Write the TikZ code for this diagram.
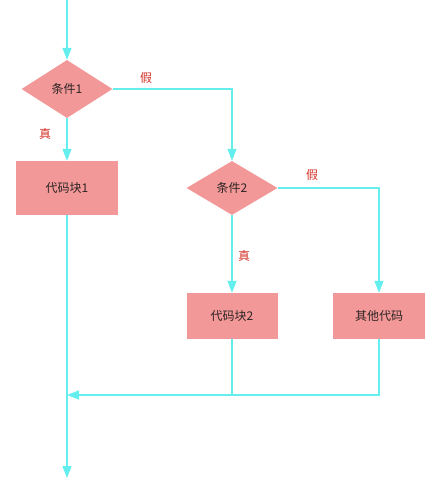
\documentclass[tikz,border=0pt]{standalone}
\usepackage{fontspec}
\setmainfont{Noto Sans CJK SC}
\usetikzlibrary{shapes.geometric,arrows.meta}
\definecolor{lnc}{RGB}{100,238,238}
\definecolor{boxc}{RGB}{242,152,152}
\definecolor{lblc}{RGB}{210,50,40}
\definecolor{txtc}{RGB}{45,35,35}
\begin{document}
\begin{tikzpicture}[x=1pt,y=-1pt,
  flow/.style={draw=lnc,line width=1.5pt},
  arr/.style={flow,-{Triangle[width=9pt,length=12pt]}},
  decide/.style={diamond,fill=boxc,minimum width=91pt,minimum height=58pt,inner sep=0pt,aspect=1.6,font=\fontsize{12pt}{14pt}\selectfont,text=txtc},
  proc/.style={rectangle,fill=boxc,inner sep=0pt,font=\fontsize{12pt}{14pt}\selectfont,text=txtc},
  lbl/.style={font=\fontsize{12pt}{14pt}\selectfont,text=lblc}]
\useasboundingbox (0,0) rectangle (431,491);
\coordinate (start) at (67,0);
\node[decide] (c1) at (67,89) {条件1};
\node[proc,minimum width=102pt,minimum height=54pt] (b1) at (67,188) {代码块1};
\node[decide,minimum width=91pt,minimum height=54pt] (c2) at (232,188) {条件2};
\node[proc,minimum width=91pt,minimum height=46pt] (b2) at (232,316) {代码块2};
\node[proc,minimum width=92pt,minimum height=46pt] (b3) at (379,316) {其他代码};
\coordinate (k1) at (232,89);
\coordinate (k2) at (379,188);
\coordinate (m2) at (232,395);
\coordinate (m3) at (379,395);
\coordinate (merge) at (67,395);
\coordinate (stop) at (67,478);
\draw[arr] (start) -- (c1.north);
\draw[arr] (c1.south) -- (b1.north);
\draw[arr] (c1.east) -- (k1) -- (c2.north);
\draw[arr] (c2.south) -- (b2.north);
\draw[arr] (c2.east) -- (k2) -- (b3.north);
\draw[flow] (b2.south) -- (m2);
\draw[arr] (b3.south) -- (m3) -- (merge);
\draw[arr] (b1.south) -- (stop);
\node[lbl] (f1) at (146,78) {假};
\node[lbl] (t1) at (45,134) {真};
\node[lbl] (f2) at (312,175) {假};
\node[lbl] (t2) at (244,256) {真};
\end{tikzpicture}
\end{document}
